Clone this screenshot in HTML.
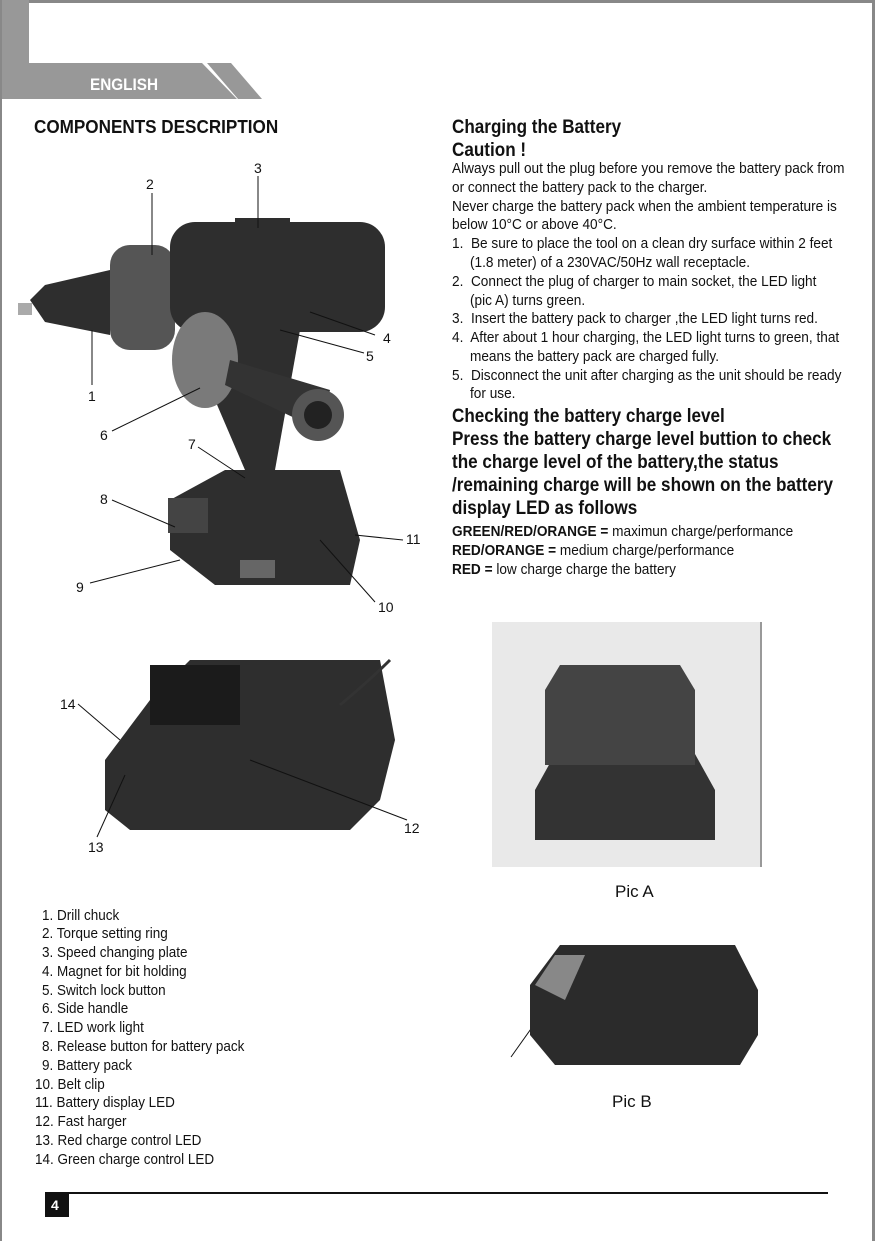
<!DOCTYPE html>
<html><head><meta charset="utf-8"><style>
body{margin:0;width:875px;height:1241px;position:relative;background:#fff;font-family:"Liberation Sans",sans-serif;color:#111;overflow:hidden}
.n{position:absolute;white-space:nowrap;transform:scaleX(.94);transform-origin:0 50%;font-size:14.5px;line-height:19px}
.l{transform:scaleX(.93)}
.b{font-weight:bold}
.h{position:absolute;white-space:nowrap;font-weight:bold;font-size:19px;line-height:23px;transform:scaleX(.9);transform-origin:0 50%}
.lab{position:absolute;font-size:14px;line-height:14px}
</style></head><body>
<svg width="875" height="1241" style="position:absolute;left:0;top:0">
<rect x="0" y="0" width="875" height="3" fill="#888"/>
<rect x="0" y="0" width="2" height="1241" fill="#888"/>
<rect x="872" y="0" width="3" height="1241" fill="#888"/>
<rect x="2" y="0" width="27" height="99" fill="#989898"/>
<polygon points="2,63 202,63 237,99 2,99" fill="#989898"/>
<polygon points="207,63 231,63 262,99 238,99" fill="#989898"/>
<g fill="#2e2e2e">
<polygon points="30,300 45,285 110,270 110,335 45,322"/>
<rect x="18" y="303" width="14" height="12" fill="#aaa"/>
<rect x="110" y="245" width="65" height="105" rx="20" fill="#555"/>
<rect x="170" y="222" width="215" height="110" rx="25"/>
<rect x="235" y="218" width="55" height="15"/>
<polygon points="185,330 300,330 275,470 245,470"/>
<ellipse cx="205" cy="360" rx="33" ry="48" fill="#7a7a7a"/>
<polygon points="230,360 330,390 320,430 225,385" fill="#333"/>
<circle cx="318" cy="415" r="26" fill="#555"/>
<circle cx="318" cy="415" r="14" fill="#222"/>
<path d="M170,500 L225,470 H340 L360,540 L350,585 H215 L170,550 Z"/>
<rect x="168" y="498" width="40" height="35" fill="#444"/>
<rect x="240" y="560" width="35" height="18" fill="#666"/>
<path d="M105,760 L150,700 L190,660 H380 L395,740 L380,800 L350,830 H130 L105,810 Z"/>
<rect x="150" y="665" width="90" height="60" fill="#1b1b1b"/>
</g>
<path d="M340,705 Q370,680 390,660" stroke="#333" stroke-width="3" fill="none"/>
<g stroke="#111" stroke-width="1" fill="none">
<line x1="152" y1="193" x2="152" y2="255"/>
<line x1="258" y1="176" x2="258" y2="228"/>
<line x1="92" y1="385" x2="92" y2="330"/>
<line x1="112" y1="431" x2="200" y2="388"/>
<line x1="375" y1="335" x2="310" y2="312"/>
<line x1="364" y1="353" x2="280" y2="330"/>
<line x1="198" y1="447" x2="245" y2="478"/>
<line x1="112" y1="500" x2="175" y2="527"/>
<line x1="90" y1="583" x2="180" y2="560"/>
<line x1="375" y1="602" x2="320" y2="540"/>
<line x1="403" y1="540" x2="355" y2="535"/>
<line x1="78" y1="704" x2="120" y2="740"/>
<line x1="97" y1="837" x2="125" y2="775"/>
<line x1="407" y1="820" x2="250" y2="760"/>
<line x1="511" y1="1057" x2="560" y2="988"/>
</g>
<polygon points="565,982 553,990 562,995" fill="#111"/>
<rect x="492" y="622" width="270" height="245" fill="#e9e9e9"/>
<rect x="760" y="622" width="2" height="245" fill="#999"/>
<path d="M535,790 L560,745 H690 L715,790 V840 H535 Z" fill="#333"/>
<path d="M545,690 L560,665 H680 L695,690 V765 H545 Z" fill="#444"/>
<path d="M530,985 L560,945 H735 L758,990 V1035 L740,1065 H555 L530,1035 Z" fill="#2b2b2b"/>
<path d="M535,985 L555,955 H585 L565,1000 Z" fill="#888"/>
<rect x="45" y="1192" width="783" height="2" fill="#111"/>
<rect x="45" y="1193" width="24" height="24" fill="#111"/>
</svg>
<div style="position:absolute;left:90px;top:75px;color:#fff;font-weight:bold;font-size:17px;transform:scaleX(.9);transform-origin:0 0">ENGLISH</div>
<div style="position:absolute;left:51px;top:1197px;color:#fff;font-weight:bold;font-size:14px">4</div>
<div class="h" style="left:34px;top:116px;font-size:18px;transform:scaleX(.95)">COMPONENTS DESCRIPTION</div>
<div class="h" style="left:452px;top:116px">Charging the Battery</div>
<div class="h" style="left:452px;top:139px">Caution !</div>
<div class="n" style="left:452px;top:160px">Always pull out the plug before you remove the battery pack from</div>
<div class="n" style="left:452px;top:179px">or connect the battery pack to the charger.</div>
<div class="n" style="left:452px;top:198px">Never charge the battery pack when the ambient temperature is</div>
<div class="n" style="left:452px;top:216px">below 10°C or above 40°C.</div>
<div class="n" style="left:452px;top:235px">1.&nbsp; Be sure to place the tool on a clean dry surface within 2 feet</div>
<div class="n" style="left:470px;top:254px">(1.8 meter) of a 230VAC/50Hz wall receptacle.</div>
<div class="n" style="left:452px;top:273px">2.&nbsp; Connect the plug of charger to main socket, the LED light</div>
<div class="n" style="left:470px;top:292px">(pic A) turns green.</div>
<div class="n" style="left:452px;top:310px">3.&nbsp; Insert the battery pack to charger ,the LED light turns red.</div>
<div class="n" style="left:452px;top:329px">4.&nbsp; After about 1 hour charging, the LED light turns to green, that</div>
<div class="n" style="left:470px;top:348px">means the battery pack are charged fully.</div>
<div class="n" style="left:452px;top:367px">5.&nbsp; Disconnect the unit after charging as the unit should be ready</div>
<div class="n" style="left:470px;top:385px">for use.</div>
<div class="h" style="left:452px;top:405px">Checking the battery charge level</div>
<div class="h" style="left:452px;top:428px">Press the battery charge level buttion to check</div>
<div class="h" style="left:452px;top:451px">the charge level of the battery,the status</div>
<div class="h" style="left:452px;top:474px">/remaining charge will be shown on the battery</div>
<div class="h" style="left:452px;top:497px">display LED as follows</div>
<div class="n" style="left:452px;top:523px"><b>GREEN/RED/ORANGE =</b> maximun charge/performance</div>
<div class="n" style="left:452px;top:542px"><b>RED/ORANGE =</b> medium charge/performance</div>
<div class="n" style="left:452px;top:561px"><b>RED =</b> low charge charge the battery</div>
<div style="position:absolute;left:615px;top:882px;font-size:17px">Pic A</div>
<div style="position:absolute;left:612px;top:1092px;font-size:17px">Pic B</div>
<div class="lab" style="left:146px;top:177px">2</div>
<div class="lab" style="left:254px;top:161px">3</div>
<div class="lab" style="left:383px;top:331px">4</div>
<div class="lab" style="left:366px;top:349px">5</div>
<div class="lab" style="left:88px;top:389px">1</div>
<div class="lab" style="left:100px;top:428px">6</div>
<div class="lab" style="left:188px;top:437px">7</div>
<div class="lab" style="left:100px;top:492px">8</div>
<div class="lab" style="left:76px;top:580px">9</div>
<div class="lab" style="left:406px;top:532px">11</div>
<div class="lab" style="left:378px;top:600px">10</div>
<div class="lab" style="left:60px;top:697px">14</div>
<div class="lab" style="left:404px;top:821px">12</div>
<div class="lab" style="left:88px;top:840px">13</div>
<div class="n l" style="left:42px;top:907px">1. Drill chuck</div>
<div class="n l" style="left:42px;top:925px">2. Torque setting ring</div>
<div class="n l" style="left:42px;top:944px">3. Speed changing plate</div>
<div class="n l" style="left:42px;top:963px">4. Magnet for bit holding</div>
<div class="n l" style="left:42px;top:982px">5. Switch lock button</div>
<div class="n l" style="left:42px;top:1000px">6. Side handle</div>
<div class="n l" style="left:42px;top:1019px">7. LED work light</div>
<div class="n l" style="left:42px;top:1038px">8. Release button for battery pack</div>
<div class="n l" style="left:42px;top:1057px">9. Battery pack</div>
<div class="n l" style="left:35px;top:1076px">10. Belt clip</div>
<div class="n l" style="left:35px;top:1094px">11. Battery display LED</div>
<div class="n l" style="left:35px;top:1113px">12. Fast harger</div>
<div class="n l" style="left:35px;top:1132px">13. Red charge control LED</div>
<div class="n l" style="left:35px;top:1151px">14. Green charge control LED</div>
</body></html>
